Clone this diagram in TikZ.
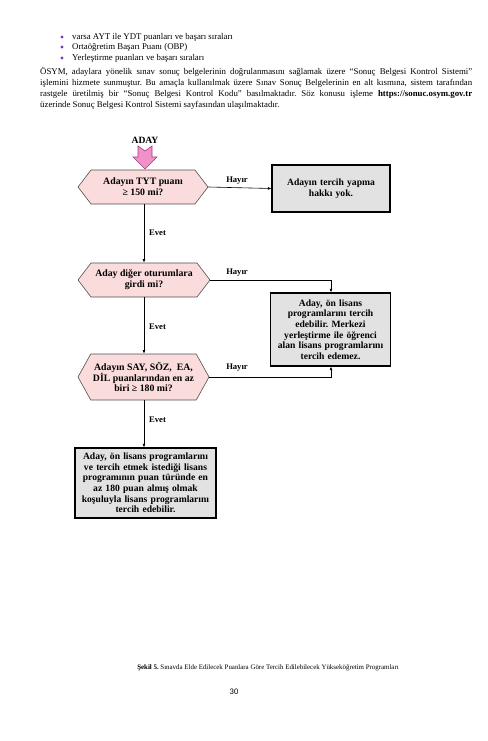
\documentclass[tikz,border=0pt]{standalone}
\usepackage{fontspec}
\setmainfont{Liberation Serif}
\newfontfamily\pagefont{Carlito}
\usetikzlibrary{shapes.symbols,arrows.meta}
\definecolor{hexfill}{HTML}{FBDCDC}
\definecolor{hexdraw}{HTML}{505050}
\definecolor{boxfill}{HTML}{E2E2E2}
\definecolor{pinkarrow}{HTML}{F290C8}
\definecolor{pinkdraw}{HTML}{A03C80}
\definecolor{bulletcol}{HTML}{7A3CB0}
\tikzset{
  hexa/.style={signal, signal to=west and east, draw=hexdraw, fill=hexfill, line width=0.6pt,
    inner sep=1pt, align=center, font=\fontsize{9.8}{10.8}\selectfont\bfseries\frenchspacing},
  grbox/.style={draw=black, fill=boxfill, line width=1.1pt, inner sep=2pt, align=center,
    font=\fontsize{9.6}{10.6}\selectfont\bfseries\frenchspacing},
  conn/.style={draw=black, line width=0.6pt, -{Latex[length=3.5pt,width=2.8pt]}},
  lbl/.style={font=\fontsize{8.6}{10}\selectfont\bfseries, inner sep=1pt},
  bodytext/.style={font=\fontsize{8.8}{11}\selectfont\frenchspacing, inner sep=0pt},
}
\begin{document}
\begin{tikzpicture}[x=1pt,y=-1pt]
\useasboundingbox (0,0) rectangle (487,741);
% bullet list
\foreach \yy/\tt [count=\i] in {37/{varsa AYT ile YDT puanları ve başarı sıraları},47/{Ortaöğretim Başarı Puanı (OBP)},58/{Yerleştirme puanları ve başarı sıraları}}{
  \fill[bulletcol] (62,\yy) circle (1.6pt);
  \node[bodytext, anchor=west] (b\i) at (72,\yy) {\tt};
}
\node[bodytext, anchor=north west, text width=432pt, align=justify] (para) at (40,67)
{ÖSYM, adaylara yönelik sınav sonuç belgelerinin doğrulanmasını sağlamak üzere “Sonuç Belgesi Kontrol Sistemi”\linebreak
işlemini hizmete sunmuştur. Bu amaçla kullanılmak üzere Sınav Sonuç Belgelerinin en alt kısmına, sistem tarafından\linebreak
rastgele üretilmiş bir “Sonuç Belgesi Kontrol Kodu” basılmaktadır. Söz konusu işleme \textbf{https://sonuc.osym.gov.tr}\linebreak
üzerinde Sonuç Belgesi Kontrol Sistemi sayfasından ulaşılmaktadır.};

% start
\node[font=\fontsize{9.6}{11}\selectfont\bfseries, inner sep=1pt] (aday) at (145,140) {ADAY};
\draw[fill=pinkarrow, draw=pinkdraw, line width=0.6pt]
  (138,146) -- (145,151) -- (152,146) -- (152,157) -- (157,157) -- (145,169)
  -- (133,157) -- (138,157) -- cycle;

% decisions
\node[hexa, minimum width=130pt, minimum height=34pt, signal pointer angle=105] (h1) at (143,187)
  {Adayın TYT puanı\\≥ 150 mi?};
\node[hexa, minimum width=132pt, minimum height=34pt, signal pointer angle=105] (h2) at (144,280)
  {Aday diğer oturumlara\\girdi mi?};
\node[hexa, minimum width=131pt, minimum height=46pt, signal pointer angle=122] (h3) at (143.5,377)
  {Adayın SAY, SÖZ,\ \ EA,\\DİL puanlarından en az\\biri ≥ 180 mi?};

% results
\node[grbox, minimum width=118pt, minimum height=47pt, text width=112pt] (r1) at (331,188.5)
  {Adayın tercih yapma\\hakkı yok.};
\node[grbox, minimum width=119pt, minimum height=73pt, text width=116pt] (r2) at (330.5,329.5)
  {Aday, ön lisans\\programlarını tercih\\edebilir. Merkezi\\yerleştirme ile öğrenci\\alan lisans programlarını\\tercih edemez.};
\node[grbox, minimum width=141pt, minimum height=70pt, text width=136pt] (r3) at (145.5,483)
  {Aday, ön lisans programlarını\\ve tercih etmek istediği lisans\\programının puan türünde en\\az 180 puan almış olmak\\koşuluyla lisans programlarını\\tercih edebilir.};

% connectors
\draw[conn] (h1.east) -- (r1.west);
\node[lbl] (l1) at (237,181) {Hayır};
\draw[conn] (h1.south -| 144,0) -- (h2.north -| 144,0);
\node[lbl, anchor=west] (e1) at (148,233) {Evet};
\draw[conn] (h2.east) -| (r2.north -| 331,0);
\node[lbl] (l2) at (237,273) {Hayır};
\draw[conn] (h2.south -| 144,0) -- (h3.north -| 144,0);
\node[lbl, anchor=west] (e2) at (148,327) {Evet};
\draw[conn] (h3.east) -| (r2.south -| 331,0);
\node[lbl] (l3) at (237,368) {Hayır};
\draw[conn] (h3.south -| 144,0) -- (r3.north -| 144,0);
\node[lbl, anchor=west] (e3) at (148,420) {Evet};

% caption
\node[font=\fontsize{6.9}{8}\selectfont\frenchspacing, inner sep=0pt] (cap) at (268,668)
  {\textbf{Şekil 5.} Sınavda Elde Edilecek Puanlara Göre Tercih Edilebilecek Yükseköğretim Programları};
\node[font=\pagefont\fontsize{8.5}{10}\selectfont, inner sep=0pt] (pg) at (234,692) {30};
\end{tikzpicture}
\end{document}
